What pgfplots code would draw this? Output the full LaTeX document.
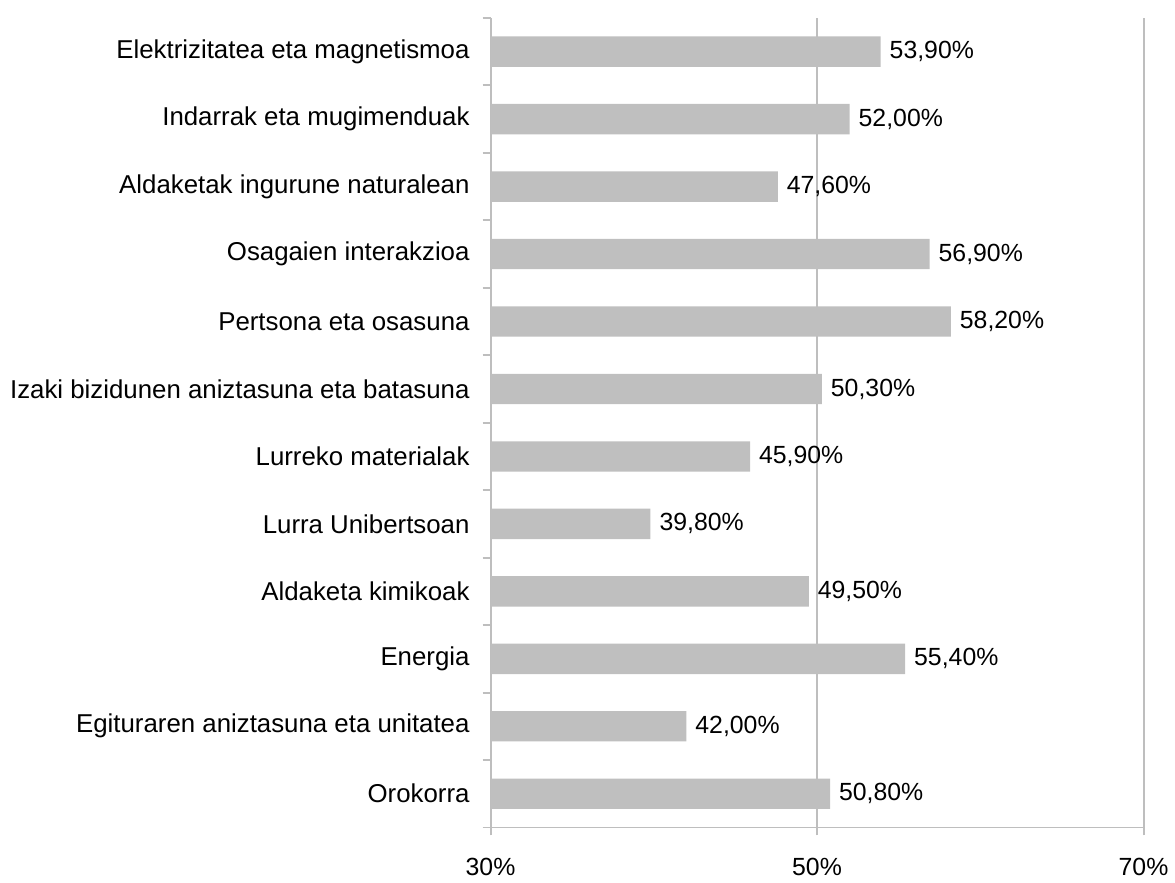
\documentclass[border=0pt]{standalone}
\usepackage{fontspec}
\setmainfont{Liberation Sans}
\usepackage{pgfplots}
\pgfplotsset{compat=1.18}
\definecolor{barcol}{HTML}{BFBFBF}
\definecolor{axcol}{HTML}{BEBEBE}
\begin{document}
\begin{tikzpicture}
\begin{axis}[name=ax,
  scale only axis, width=327.5bp, height=406bp,
  xbar, bar width=0.45,
  xmin=30, xmax=70, ymin=-0.5, ymax=11.5,
  axis lines*=left,
  axis line style={axcol, line width=1bp},
  xtick={30,50,70},
  xticklabel={\pgfmathprintnumber{\tick}\%},
  xticklabel style={font=\fontsize{12.5}{14}\selectfont, yshift=-8bp},
  xmajorgrids, grid style={axcol, line width=1bp},
  tick align=outside, tick pos=left,
  major tick length=4bp, minor tick length=4bp,
  tick style={axcol, line width=1bp},
  ytick={0,...,11},
  y tick style={draw=none},
  minor ytick={-0.5,0.5,...,11.5},
  minor y tick style={axcol, line width=1bp, draw=axcol},
  yticklabels={Orokorra,Egituraren aniztasuna eta unitatea,Energia,Aldaketa kimikoak,Lurra Unibertsoan,Lurreko materialak,Izaki bizidunen aniztasuna eta batasuna,Pertsona eta osasuna,Osagaien interakzioa,Aldaketak ingurune naturalean,Indarrak eta mugimenduak,Elektrizitatea eta magnetismoa},
  yticklabel style={font=\fontsize{13}{15}\selectfont, xshift=-3bp},
  /pgf/number format/assume math mode=true,
  point meta=x,
  nodes near coords={\pgfmathprintnumber[fixed,fixed zerofill,precision=2,use comma]{\pgfplotspointmeta}\%},
  nodes near coords style={font=\fontsize{12.5}{14}\selectfont, anchor=west, xshift=1bp},
]
\addplot[fill=barcol, draw=none] coordinates {
(50.8,0) (42.0,1) (55.4,2) (49.5,3) (39.8,4) (45.9,5)
(50.3,6) (58.2,7) (56.9,8) (47.6,9) (52.0,10) (53.9,11)
};
\end{axis}
\path (ax.south west) ++(-246bp,-27bp);
\path (ax.north east) ++(14bp,9bp);
\end{tikzpicture}
\end{document}
